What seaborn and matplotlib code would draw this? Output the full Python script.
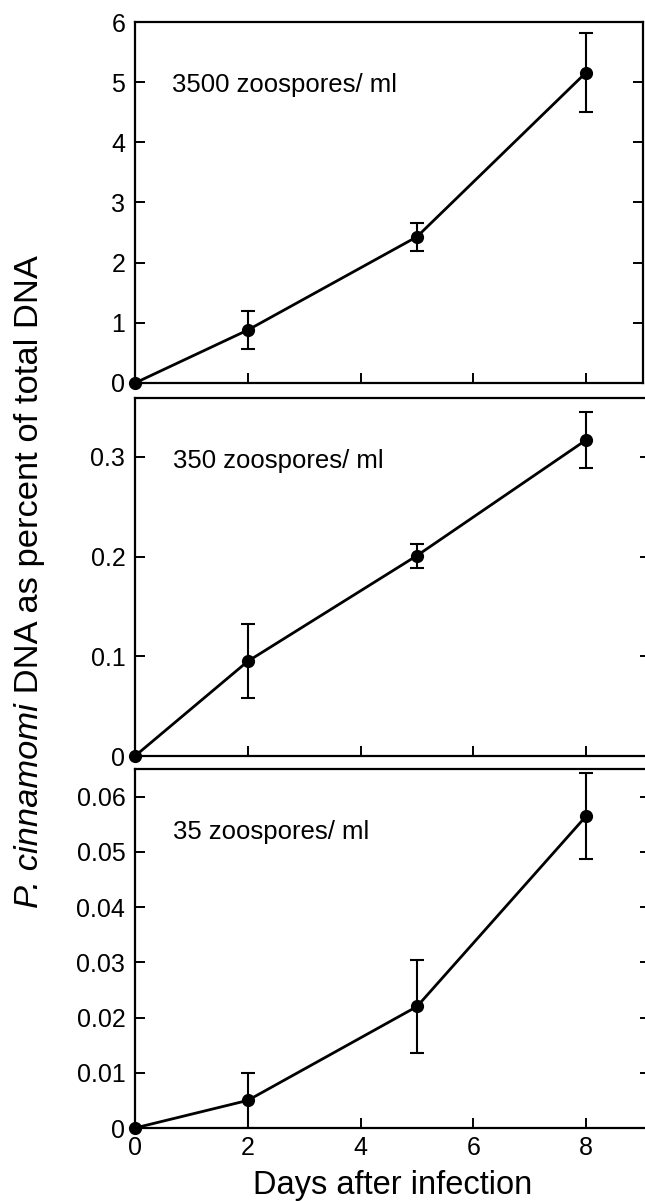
import matplotlib
matplotlib.use('Agg')
import matplotlib.pyplot as plt
import seaborn as sns

sns.set_style('ticks')
plt.rcParams['font.family'] = ['Liberation Sans', 'DejaVu Sans']
plt.rcParams['text.color'] = 'black'
plt.rcParams['axes.labelcolor'] = 'black'
plt.rcParams['xtick.color'] = 'black'
plt.rcParams['ytick.color'] = 'black'
plt.rcParams['axes.edgecolor'] = 'black'

# Days after infection
days = [0, 2, 5, 8]

# DNA (% of total) and error, one set per inoculum level
dna_3500 = [0, 0.88, 2.43, 5.16]
err_3500 = [0, 0.32, 0.23, 0.65]
dna_350 = [0, 0.095, 0.201, 0.317]
err_350 = [0, 0.037, 0.012, 0.028]
dna_35 = [0, 0.0050, 0.0220, 0.0565]
err_35 = [0, 0.0050, 0.0085, 0.0078]

labels = ['3500 zoospores/ ml', '350 zoospores/ ml', '35 zoospores/ ml']

yticks_3500 = [0, 1, 2, 3, 4, 5, 6]
ylabels_3500 = ['0', '1', '2', '3', '4', '5', '6']
yticks_350 = [0, 0.1, 0.2, 0.3]
ylabels_350 = ['0', '0.1', '0.2', '0.3']
yticks_35 = [0, 0.01, 0.02, 0.03, 0.04, 0.05, 0.06]
ylabels_35 = ['0', '0.01', '0.02', '0.03', '0.04', '0.05', '0.06']
xticks = [0, 2, 4, 6, 8]

W, H = 645, 1201
fig = plt.figure(figsize=(W / 100, H / 100), dpi=100)

def frac(left, top, right, bottom):
    return [left / W, 1 - bottom / H, (right - left) / W, (bottom - top) / H]

panels = [
    (frac(135, 22, 643, 383), dna_3500, err_3500, labels[0], yticks_3500, ylabels_3500, 6.0, 9.01),
    (frac(135, 398, 650, 756), dna_350, err_350, labels[1], yticks_350, ylabels_350, 0.359, 9.13),
    (frac(135, 769, 650, 1128), dna_35, err_35, labels[2], yticks_35, ylabels_35, 0.065, 9.13),
]

for i, (pos, y, err, lab, yt, yl, ymax, xmax) in enumerate(panels):
    ax = fig.add_axes(pos)
    sns.lineplot(x=days, y=y, ax=ax, color='black', linewidth=2.0,
                 marker='o', markersize=9.5, markeredgewidth=0,
                 clip_on=False, zorder=3)
    ax.errorbar(days[1:], y[1:], yerr=err[1:], fmt='none', ecolor='black',
                elinewidth=1.5, capsize=4.7, capthick=1.5, zorder=2)
    ax.set_xlim(0, xmax)
    ax.set_ylim(0, ymax)
    ax.set_yticks(yt)
    ax.set_yticklabels(yl)
    ax.set_xticks(xticks)
    ax.tick_params(axis='both', direction='in', length=7, width=1.4,
                   labelsize=18)
    ax.tick_params(axis='y', right=True, pad=7)
    ax.tick_params(axis='x', top=False, pad=6)
    for s in ax.spines.values():
        s.set_linewidth(1.6)
        s.set_visible(True)
    ax.text(0.073, 0.805, lab, transform=ax.transAxes, fontsize=18.5,
            ha='left', va='baseline')
    if i < 2:
        ax.set_xticklabels([])
    else:
        ax.set_xticklabels([str(t) for t in xticks])
        ax.set_xlabel('Days after infection', fontsize=23.5, labelpad=7)

# y label with italic species name, built from two rotated texts
renderer = fig.canvas.get_renderer()
base_x = 38 / W
t1 = fig.text(base_x, 1 - 908 / H, 'P. cinnamomi', style='italic',
              rotation=90, rotation_mode='anchor', ha='left', va='baseline',
              fontsize=24.8)
top_px = t1.get_window_extent(renderer).y1
fig.text(base_x, top_px / H, ' DNA as percent of total DNA',
         rotation=90, rotation_mode='anchor', ha='left', va='baseline',
         fontsize=24.8)

fig.savefig('out.png', dpi=100)
